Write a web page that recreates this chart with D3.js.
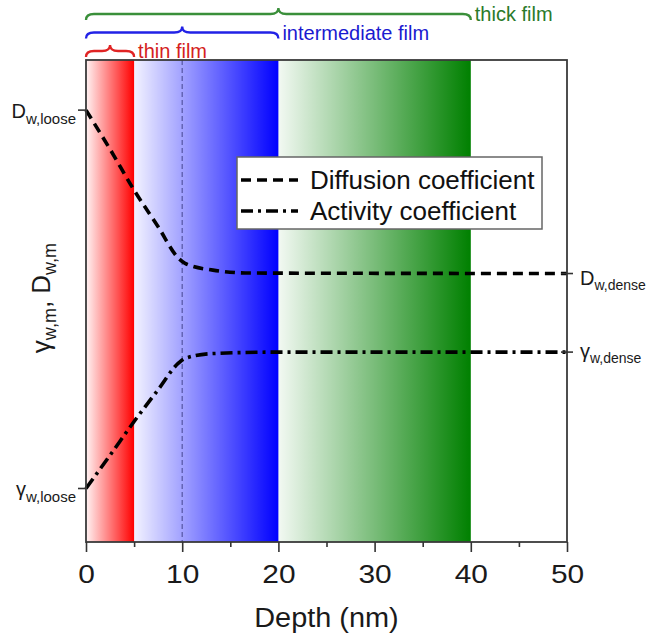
<!DOCTYPE html>
<html>
<head>
<meta charset="utf-8">
<script src="https://cdn.jsdelivr.net/npm/d3@7"></script>
<style>
  body { margin: 0; background: #fff; }
  svg { display: block; font-family: "Liberation Sans", Arial, sans-serif; }
</style>
</head>
<body>
<svg id="chart"></svg>
<script>
// Dữ liệu
const depthDiff = [0, 2.5, 5, 7.5, 9.6, 10.3, 13.2, 17, 50];
const diffCoef  = [89.6, 81.5, 73.0, 65.4, 58.9, 57.8, 56.4, 55.8, 55.7];
const depthAct  = [0, 2.5, 5, 7.5, 9.6, 10.3, 13.2, 20, 50];
const actCoef   = [11.1, 18.0, 25.0, 31.6, 37.1, 38.1, 39.1, 39.4, 39.4];

const filmNames = ["thin film", "intermediate film", "thick film"];
const filmStart = [0, 5, 20];
const filmEnd   = [5, 20, 40];
const markerDepth = 10;

const xTicks = [0, 10, 20, 30, 40, 50];
const xMinor = [5, 15, 25, 35, 45];

const seriesNames = ["Diffusion coefficient", "Activity coefficient"];
const seriesSymbols = ["D", "γ"];
const startSubs = ["w,loose", "w,loose"];
const endSubs = ["w,dense", "w,dense"];

// Màu
const bandColors  = ["#ff0000", "#0000ff", "#008000"];
const braceColors = ["#e02424", "#2222e6", "#3a8f3a"];
const labelColors = ["#d42020", "#1a1ad0", "#2a7a2a"];

// Kích thước
const W = 648, H = 636;
const margin = { top: 60, right: 81, bottom: 94, left: 86 },
      width = W - margin.left - margin.right,
      height = H - margin.top - margin.bottom;

const svg = d3.select("#chart").attr("width", W).attr("height", H);
const chart = svg.append("g")
    .attr("transform", `translate(${margin.left},${margin.top})`);

const x = d3.scaleLinear().domain([0, 50]).range([0, width]);
const y = d3.scaleLinear().domain([0, 100]).range([height, 0]);

// Gradient cho các vùng
const defs = svg.append("defs");
bandColors.forEach((c, i) => {
    const g = defs.append("linearGradient")
        .attr("id", "band" + i)
        .attr("x1", 0).attr("x2", 1).attr("y1", 0).attr("y2", 0);
    g.append("stop").attr("offset", 0).attr("stop-color", c).attr("stop-opacity", 0.05);
    g.append("stop").attr("offset", 1).attr("stop-color", c).attr("stop-opacity", 1);
});

chart.selectAll(".band")
    .data(filmStart)
    .enter()
    .append("rect")
    .attr("x", d => x(d))
    .attr("y", 0)
    .attr("width", (d, i) => x(filmEnd[i]) - x(d))
    .attr("height", height)
    .attr("fill", (d, i) => `url(#band${i})`);

// Đường đứng nét đứt tại 10 nm
chart.append("line")
    .attr("x1", x(markerDepth)).attr("x2", x(markerDepth))
    .attr("y1", 0).attr("y2", height)
    .attr("stroke", "#5a5aaa")
    .attr("stroke-width", 1.3)
    .attr("stroke-dasharray", "5,3");

// Đường cong
const line = d3.line()
    .x(d => x(d[0]))
    .y(d => y(d[1]))
    .curve(d3.curveMonotoneX);

const dashes = ["10,6", "12,5,3,5"];

chart.append("path")
    .datum(d3.zip(depthDiff, diffCoef))
    .attr("d", line)
    .attr("fill", "none")
    .attr("stroke", "#000")
    .attr("stroke-width", 3.6)
    .attr("stroke-dasharray", dashes[0]);

chart.append("path")
    .datum(d3.zip(depthAct, actCoef))
    .attr("d", line)
    .attr("fill", "none")
    .attr("stroke", "#000")
    .attr("stroke-width", 3.6)
    .attr("stroke-dasharray", dashes[1]);

// Khung
chart.append("rect")
    .attr("width", width)
    .attr("height", height)
    .attr("fill", "none")
    .attr("stroke", "#3a3a3a")
    .attr("stroke-width", 1.8);

// Trục X
const xAxis = chart.append("g")
    .attr("transform", `translate(0, ${height})`)
    .call(d3.axisBottom(x).tickValues(xTicks).tickSize(10).tickSizeOuter(0).tickPadding(12.5));
xAxis.select(".domain").remove();
xAxis.selectAll("line").attr("stroke", "#333").attr("stroke-width", 1.6);
xAxis.selectAll("text")
    .attr("font-size", 26)
    .attr("font-family", "Liberation Sans, Arial, sans-serif")
    .attr("fill", "#1a1a1a")
    .attr("transform", "scale(1.15,1)");

const xAxisMinor = chart.append("g")
    .attr("transform", `translate(0, ${height})`)
    .call(d3.axisBottom(x).tickValues(xMinor).tickSize(5).tickFormat(""));
xAxisMinor.select(".domain").remove();
xAxisMinor.selectAll("line").attr("stroke", "#333").attr("stroke-width", 1.6);

chart.append("text")
    .attr("x", width / 2)
    .attr("y", height + 85)
    .attr("text-anchor", "middle")
    .attr("font-size", 27)
    .attr("fill", "#1a1a1a")
    .attr("transform", `translate(${width / 2},0) scale(1.07,1) translate(${-width / 2},0)`)
    .text("Depth (nm)");

// Tên trục Y
const yTitle = chart.append("text")
    .attr("transform", `translate(${50 - margin.left}, ${298 - margin.top}) rotate(-90)`)
    .attr("text-anchor", "middle")
    .attr("font-size", 26)
    .attr("fill", "#1a1a1a");
yTitle.append("tspan").text("γ");
yTitle.append("tspan").attr("font-size", 18).attr("dy", 6).text("w,m");
yTitle.append("tspan").attr("dy", -6).text(", D");
yTitle.append("tspan").attr("font-size", 18).attr("dy", 6).text("w,m");

// Nhãn đầu và cuối đường cong
const startValues = [diffCoef[0], actCoef[0]];
const endValues = [diffCoef[diffCoef.length - 1], actCoef[actCoef.length - 1]];
const startShift = [8, 8];
const endShift = [11, 6];

startValues.forEach((v, i) => {
    chart.append("line")
        .attr("x1", -8).attr("x2", 0)
        .attr("y1", y(v)).attr("y2", y(v))
        .attr("stroke", "#333").attr("stroke-width", 1.6);
    const t = chart.append("text")
        .attr("x", -10)
        .attr("y", y(v) + startShift[i])
        .attr("text-anchor", "end")
        .attr("font-size", 20)
        .attr("fill", "#1a1a1a");
    t.append("tspan").text(seriesSymbols[i]);
    t.append("tspan").attr("font-size", 15).attr("dy", 6).text(startSubs[i]);
});

endValues.forEach((v, i) => {
    chart.append("line")
        .attr("x1", width - 6).attr("x2", width + 6)
        .attr("y1", y(v)).attr("y2", y(v))
        .attr("stroke", "#333").attr("stroke-width", 1.6);
    const t = chart.append("text")
        .attr("x", width + 13)
        .attr("y", y(v) + endShift[i])
        .attr("font-size", 20)
        .attr("fill", "#1a1a1a");
    t.append("tspan").text(seriesSymbols[i]);
    t.append("tspan").attr("font-size", 14).attr("dy", 5).text(endSubs[i]);
});

// Chú thích
const legend = chart.append("g")
    .attr("transform", "translate(151, 97)");

legend.append("rect")
    .attr("width", 305)
    .attr("height", 72)
    .attr("fill", "#fff")
    .attr("stroke", "#666")
    .attr("stroke-width", 1.5);

seriesNames.forEach((name, i) => {
    legend.append("line")
        .attr("x1", 4).attr("x2", 61)
        .attr("y1", 23 + i * 31).attr("y2", 23 + i * 31)
        .attr("stroke", "#000")
        .attr("stroke-width", 3.6)
        .attr("stroke-dasharray", dashes[i]);
    legend.append("text")
        .attr("x", 73)
        .attr("y", 32 + i * 31)
        .attr("font-size", 26)
        .attr("fill", "#111")
        .text(name);
});

// Ngoặc nhọn phía trên
function bracePath(x1, x2, yb, h, r) {
    const xm = (x1 + x2) / 2;
    return `M${x1},${yb + h} Q${x1},${yb} ${x1 + r},${yb} L${xm - r},${yb} ` +
           `Q${xm},${yb} ${xm},${yb - h} Q${xm},${yb} ${xm + r},${yb} ` +
           `L${x2 - r},${yb} Q${x2},${yb} ${x2},${yb + h}`;
}

filmEnd.forEach((end, i) => {
    const yb = -9 - i * 18.5;
    chart.append("path")
        .attr("d", bracePath(x(0), x(end), yb, 6, 8))
        .attr("fill", "none")
        .attr("stroke", braceColors[i])
        .attr("stroke-width", 2.3);
    chart.append("text")
        .attr("x", x(end) + 4)
        .attr("y", yb + 7)
        .attr("font-size", 20)
        .attr("fill", labelColors[i])
        .text(filmNames[i]);
});
</script>
</body>
</html>
